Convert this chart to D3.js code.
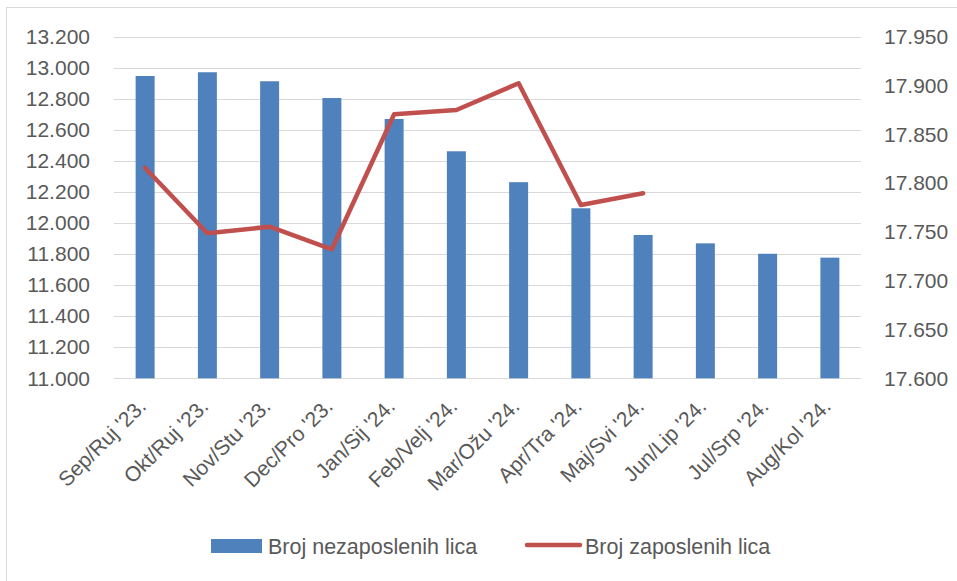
<!DOCTYPE html>
<html>
<head>
<meta charset="utf-8">
<script src="https://cdn.jsdelivr.net/npm/d3@7"></script>
<style>
  html, body { margin: 0; padding: 0; background: #fff; }
  svg { display: block; }
  text { font-family: "Liberation Sans", Arial, sans-serif; fill: #595959; }
</style>
</head>
<body>
<svg id="chart" width="957" height="581"></svg>
<script>
const categories = ["Sep/Ruj '23.", "Okt/Ruj '23.", "Nov/Stu '23.", "Dec/Pro '23.", "Jan/Sij '24.", "Feb/Velj '24.",
  "Mar/Ožu '24.", "Apr/Tra '24.", "Maj/Svi '24.", "Jun/Lip '24.", "Jul/Srp '24.", "Aug/Kol '24."];
const unemployed = [12947, 12971, 12913, 12805, 12670, 12462, 12263, 12095, 11923, 11869, 11802, 11777];
const employed = [17815.5, 17748.6, 17755.3, 17732.2, 17870.5, 17874.9, 17902.3, 17777.6, 17789.6, null, null, null];
const leftTicks = [11000, 11200, 11400, 11600, 11800, 12000, 12200, 12400, 12600, 12800, 13000, 13200];
const rightTicks = [17600, 17650, 17700, 17750, 17800, 17850, 17900, 17950];
const seriesNames = ["Broj nezaposlenih lica", "Broj zaposlenih lica"];

const svg = d3.select("#chart");
const pLeft = 114, pRight = 861, pTop = 36.7, pBottom = 378.3;
const fmt = v => d3.format(",.0f")(v).replace(/,/g, ".");

// chart border
svg.append("rect").attr("x", 6.5).attr("y", 7.5).attr("width", 1000).attr("height", 1000)
  .attr("fill", "none").attr("stroke", "#D9D9D9").attr("stroke-width", 1);

const x = d3.scaleBand().domain(categories).range([pLeft, pRight]).paddingInner(0.695).paddingOuter(0.3475);
const yL = d3.scaleLinear().domain([11000, 13200]).range([pBottom, pTop]);
const yR = d3.scaleLinear().domain([17600, 17950]).range([pBottom, pTop]);

// gridlines
svg.append("g").selectAll("line").data(leftTicks).join("line")
  .attr("x1", pLeft).attr("x2", pRight)
  .attr("y1", d => Math.round(yL(d)) + 0.5).attr("y2", d => Math.round(yL(d)) + 0.5)
  .attr("stroke", "#D9D9D9").attr("stroke-width", 1);

// left axis labels
const axL = svg.append("g").attr("transform", `translate(${pLeft},0)`)
  .call(d3.axisLeft(yL).tickValues(leftTicks).tickFormat(fmt).tickSize(0).tickPadding(24));
axL.select(".domain").remove();
axL.selectAll("text").style("font-family", '"Liberation Sans", Arial, sans-serif')
  .style("font-size", "21px").attr("fill", "#595959");

// right axis labels
const axR = svg.append("g").attr("transform", `translate(${pRight},0)`)
  .call(d3.axisRight(yR).tickValues(rightTicks).tickFormat(fmt).tickSize(0).tickPadding(23));
axR.select(".domain").remove();
axR.selectAll("text").style("font-family", '"Liberation Sans", Arial, sans-serif')
  .style("font-size", "21px").attr("fill", "#595959");

// bars
svg.append("g").selectAll("rect").data(unemployed).join("rect")
  .attr("x", (d, i) => x(categories[i]))
  .attr("width", x.bandwidth())
  .attr("y", d => yL(d))
  .attr("height", d => yL(11000) - yL(d))
  .attr("fill", "#4F81BD");

// x axis labels
const axB = svg.append("g").attr("transform", `translate(0,${pBottom})`)
  .call(d3.axisBottom(x).tickSize(0).tickPadding(0));
axB.select(".domain").remove();
axB.selectAll("text")
  .style("font-family", '"Liberation Sans", Arial, sans-serif')
  .style("font-size", "21px").attr("fill", "#595959")
  .attr("text-anchor", "end")
  .attr("y", 0)
  .attr("dy", "0.35em")
  .attr("transform", "translate(-3,24) rotate(-45)");

// line
const line = d3.line()
  .defined(d => d != null)
  .x((d, i) => x(categories[i]) + x.bandwidth() / 2)
  .y(d => yR(d));
svg.append("path").datum(employed).attr("d", line)
  .attr("fill", "none").attr("stroke", "#C0504D").attr("stroke-width", 4.5)
  .attr("stroke-linejoin", "round").attr("stroke-linecap", "round");

// legend
const lg = svg.append("g");
lg.append("rect").attr("x", 211).attr("y", 539).attr("width", 51).attr("height", 14).attr("fill", "#4F81BD");
lg.append("text").attr("x", 268).attr("y", 546).attr("dy", "0.35em")
  .style("font-size", "21.5px").text(seriesNames[0]);
lg.append("line").attr("x1", 527).attr("x2", 580).attr("y1", 545).attr("y2", 545)
  .attr("stroke", "#C0504D").attr("stroke-width", 4.5).attr("stroke-linecap", "round");
lg.append("text").attr("x", 585).attr("y", 546).attr("dy", "0.35em")
  .style("font-size", "21.5px").text(seriesNames[1]);
</script>
</body>
</html>
